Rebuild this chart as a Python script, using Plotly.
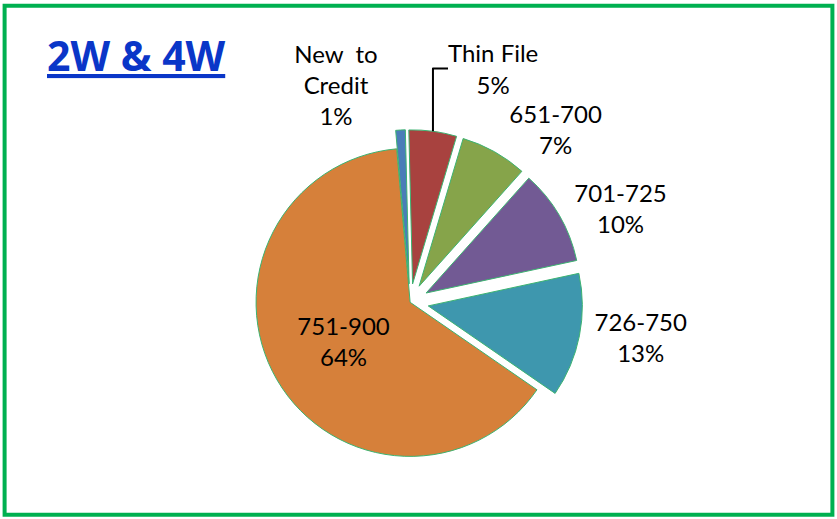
import plotly.graph_objects as go

labels = ["New  to<br>Credit", "Thin File", "651-700", "701-725", "726-750", "751-900"]
values = [1, 5, 7, 10, 13, 64]
colors = ["#4A7DB8", "#A8423F", "#86A44A", "#725A94", "#3E97AE", "#D6803A"]
pulls = [0.12, 0.12, 0.12, 0.12, 0.12, 0.0]
positions = ["outside", "outside", "outside", "outside", "outside", "inside"]

FONT = "Lato, Open Sans, sans-serif"

fig = go.Figure(go.Pie(
    labels=labels,
    values=values,
    sort=False,
    direction="clockwise",
    rotation=-5,
    pull=pulls,
    automargin=False,
    marker=dict(colors=colors, line=dict(color="#3CB371", width=1)),
    texttemplate="%{label}<br>%{percent:.0%}",
    textposition=positions,
    insidetextorientation="horizontal",
    textfont=dict(family=FONT, size=24, color="black"),
    outsidetextfont=dict(family=FONT, size=24, color="black"),
    insidetextfont=dict(family=FONT, size=24, color="black"),
    showlegend=False,
    domain=dict(x=[0.08, 0.9], y=[0.085, 0.75]),
    hoverinfo="label+percent",
))

fig.add_annotation(
    text="<b><u>2W & 4W</u></b>",
    xref="paper", yref="paper", x=0.054, y=0.894,
    xanchor="left", yanchor="middle", showarrow=False,
    font=dict(family="Open Sans, Lato, sans-serif", size=41, color="#0A36C8"),
)

fig.add_shape(
    type="rect", xref="paper", yref="paper",
    x0=0.0055, x1=0.9945, y0=0.008, y1=0.989,
    line=dict(color="#00B050", width=4), fillcolor="rgba(0,0,0,0)",
)

fig.update_layout(
    width=837, height=519,
    autosize=False,
    margin=dict(l=0, r=0, t=0, b=0, autoexpand=False),
    paper_bgcolor="white", plot_bgcolor="white",
)

fig.write_html(
    "out.html",
    config={"displayModeBar": False},
    post_script="document.body.style.margin='0';document.body.style.overflow='hidden';",
)
